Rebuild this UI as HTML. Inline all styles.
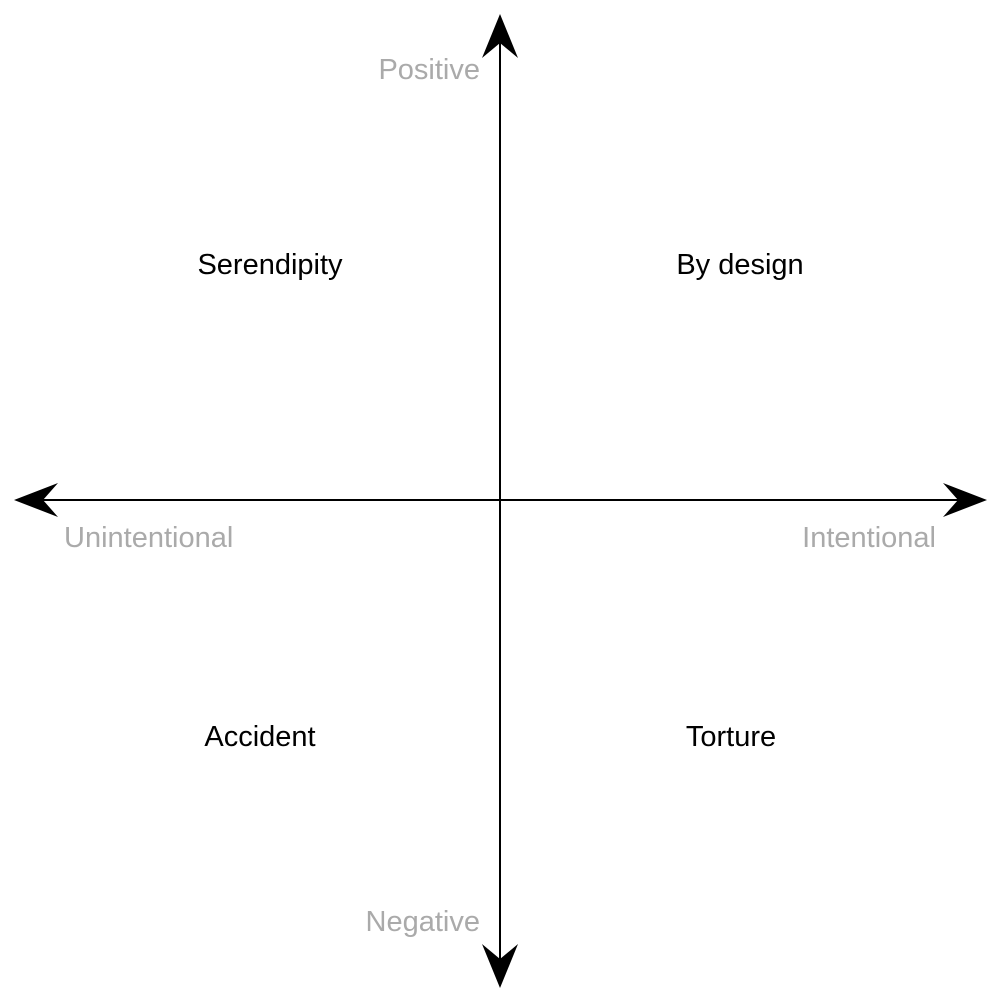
<!DOCTYPE html>
<html><head><style>
html,body{margin:0;padding:0;background:#fff;}
svg{display:block}
text{font-family:"Liberation Sans",Arial,sans-serif;font-size:29px}
.g{fill:#aaaaaa}
</style></head><body>
<svg width="1001" height="1001" viewBox="0 0 1001 1001">
<line x1="500" y1="40" x2="500" y2="962" stroke="#000" stroke-width="2"/>
<line x1="40" y1="500" x2="962" y2="500" stroke="#000" stroke-width="2"/>
<polygon points="500,14 518,58 500,43 482,58" fill="#000"/>
<polygon points="500,988 518,944 500,959 482,944" fill="#000"/>
<polygon points="14,500 58,483 43,500 58,517" fill="#000"/>
<polygon points="987,500 943,483 958,500 943,517" fill="#000"/>
<text class="g" x="480" y="79" text-anchor="end">Positive</text>
<text class="g" x="480" y="931" text-anchor="end">Negative</text>
<text class="g" x="64" y="547">Unintentional</text>
<text class="g" x="936" y="547" text-anchor="end">Intentional</text>
<text x="270" y="274" text-anchor="middle">Serendipity</text>
<text x="740" y="274" text-anchor="middle">By design</text>
<text x="260" y="746" text-anchor="middle">Accident</text>
<text x="731" y="746" text-anchor="middle">Torture</text>
</svg>
</body></html>
